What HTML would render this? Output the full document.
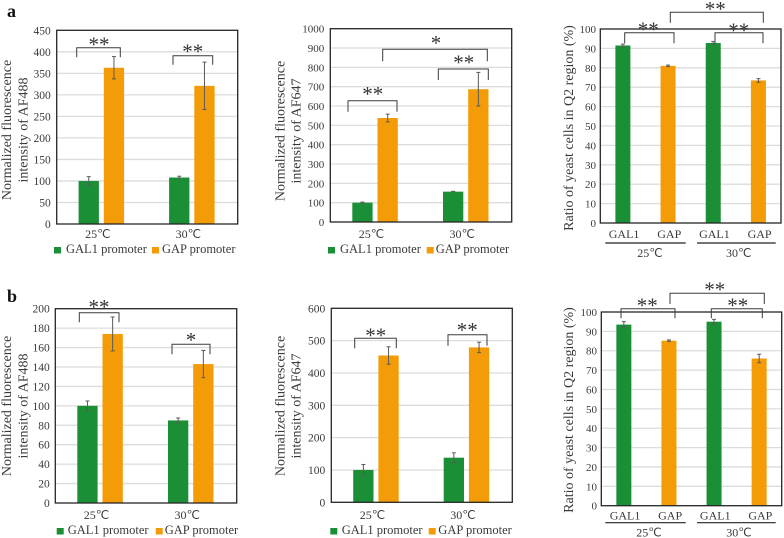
<!DOCTYPE html>
<html lang="en">
<head>
<meta charset="utf-8">
<title>Normalized fluorescence and Q2 ratio charts</title>
<style>
  html, body { margin: 0; padding: 0; background: #fff; }
  svg { display: block; width: 784px; height: 538px; filter: blur(0.35px); }
  text { font-family: "Liberation Serif", serif; fill: #3a3a3a; }
  .title { font-size: 14px; text-anchor: middle; }
  .legend { font-size: 12.5px; }
  .star { font-size: 21px; text-anchor: middle; fill: #333; }
  .panel { font-size: 18px; font-weight: bold; fill: #111; }
  .bracket { fill: none; stroke: #3a3a3a; stroke-width: 1; }
  .group-label { font-size: 12px; text-anchor: middle; }
</style>
</head>
<body>
<svg id="figure" xmlns="http://www.w3.org/2000/svg" width="784" height="538" viewBox="0 0 784 538">
  <rect width="784" height="538" fill="#fff"/>
  <g id="charts"></g>

  <text class="panel" x="7" y="17">a</text>
  <text class="panel" x="7" y="302">b</text>

  <!-- axis titles -->
  <g>
    <text class="title" transform="translate(11,130) rotate(-90)">Normalized fluorescence</text>
    <text class="title" transform="translate(27.5,130) rotate(-90)">intensity of AF488</text>
  </g>
  <g>
    <text class="title" transform="translate(284.7,131) rotate(-90)">Normalized fluorescence</text>
    <text class="title" transform="translate(300.7,131) rotate(-90)">intensity of AF647</text>
  </g>
  <text class="title" transform="translate(573,128) rotate(-90)">Ratio of yeast cells in Q2 region (%)</text>
  <g>
    <text class="title" transform="translate(11,406) rotate(-90)">Normalized fluorescence</text>
    <text class="title" transform="translate(27.3,406) rotate(-90)">intensity of AF488</text>
  </g>
  <g>
    <text class="title" transform="translate(284.7,406) rotate(-90)">Normalized fluorescence</text>
    <text class="title" transform="translate(300.7,406) rotate(-90)">intensity of AF647</text>
  </g>
  <text class="title" transform="translate(573,410) rotate(-90)">Ratio of yeast cells in Q2 region (%)</text>

  <!-- legends -->
  <g>
    <rect x="54" y="247" width="7" height="6.5" fill="#1b8f35"/>
    <text class="legend" x="66" y="253">GAL1 promoter</text>
    <rect x="152" y="247" width="7" height="6.5" fill="#f39c07"/>
    <text class="legend" x="162" y="253">GAP promoter</text>
  </g>
  <g>
    <rect x="328" y="247" width="7" height="6.5" fill="#1b8f35"/>
    <text class="legend" x="340" y="253">GAL1 promoter</text>
    <rect x="426.7" y="247" width="7" height="6.5" fill="#f39c07"/>
    <text class="legend" x="435.7" y="253">GAP promoter</text>
  </g>
  <g>
    <rect x="56.7" y="528" width="7" height="6.5" fill="#1b8f35"/>
    <text class="legend" x="67.7" y="534">GAL1 promoter</text>
    <rect x="155.7" y="528" width="7" height="6.5" fill="#f39c07"/>
    <text class="legend" x="164.7" y="534">GAP promoter</text>
  </g>
  <g>
    <rect x="330.3" y="528" width="7" height="6.5" fill="#1b8f35"/>
    <text class="legend" x="341.7" y="534">GAL1 promoter</text>
    <rect x="428.7" y="528" width="7" height="6.5" fill="#f39c07"/>
    <text class="legend" x="438.3" y="534">GAP promoter</text>
  </g>

  <!-- temperature group labels for the ratio charts -->
  <g>
    <line x1="605.3" x2="685.7" y1="243" y2="243" stroke="#222" stroke-width="1.2"/>
    <line x1="697" x2="775.7" y1="243" y2="243" stroke="#222" stroke-width="1.2"/>
    <text class="group-label" x="650" y="257">25℃</text>
    <text class="group-label" x="738.7" y="257">30℃</text>
  </g>
  <g>
    <line x1="605.3" x2="685.7" y1="522.7" y2="522.7" stroke="#222" stroke-width="1.2"/>
    <line x1="697" x2="775.7" y1="522.7" y2="522.7" stroke="#222" stroke-width="1.2"/>
    <text class="group-label" x="649" y="536.7">25℃</text>
    <text class="group-label" x="739" y="536.7">30℃</text>
  </g>

  <!-- significance brackets -->
  <g>
    <path class="bracket" d="M76.7 57.3V47.7H120.3V57.3"/>
    <text class="star" x="99" y="51.7">**</text>
    <path class="bracket" d="M173 64.7V55.7H212.7V64.7"/>
    <text class="star" x="192.7" y="58.3">**</text>
  </g>
  <g>
    <path class="bracket" d="M348 111.7V100.7H397V111.7"/>
    <text class="star" x="372.7" y="101">**</text>
    <path class="bracket" d="M438.3 80V69H488.3V80"/>
    <text class="star" x="463.7" y="69.3">**</text>
    <path class="bracket" d="M382.7 61.3V49.3H487.3V61.3"/>
    <text class="star" x="436" y="50">*</text>
  </g>
  <g>
    <path class="bracket" d="M624.7 43.3V32.7H674V43.3"/>
    <text class="star" x="648.3" y="36.7">**</text>
    <path class="bracket" d="M715 43.3V32.7H763V43.3"/>
    <text class="star" x="738.7" y="37.3">**</text>
    <path class="bracket" d="M670.3 22.7V12.3H763.3V22.7"/>
    <text class="star" x="715.3" y="16">**</text>
  </g>
  <g>
    <path class="bracket" d="M79.3 322.3V312.7H119V322.3"/>
    <text class="star" x="99" y="314">**</text>
    <path class="bracket" d="M172 354.3V344.3H210V354.3"/>
    <text class="star" x="191" y="347">*</text>
  </g>
  <g>
    <path class="bracket" d="M354.7 348.3V338.3H396.3V348.3"/>
    <text class="star" x="375.7" y="342.3">**</text>
    <path class="bracket" d="M448 345.7V334.7H487V345.7"/>
    <text class="star" x="467.3" y="337">**</text>
  </g>
  <g>
    <path class="bracket" d="M621 318.3V308.7H675V318.3"/>
    <text class="star" x="647.3" y="312.7">**</text>
    <path class="bracket" d="M711.3 318.3V308.7H762.3V318.3"/>
    <text class="star" x="737.7" y="312.7">**</text>
    <path class="bracket" d="M670 304V293.3H764.3V304"/>
    <text class="star" x="714.7" y="296.7">**</text>
  </g>
</svg>

<script>
// ---- data ----
const temperatureCategories = ["25℃", "30℃"];
const strainCategories = ["GAL1", "GAP", "GAL1", "GAP"];

const a1Ticks = [0, 50, 100, 150, 200, 250, 300, 350, 400, 450];
const a1Gal1 = [100, 108];
const a1Gal1Err = [10, 3];
const a1Gap = [363, 321];
const a1GapErr = [26, 55];

const a2Ticks = [0, 100, 200, 300, 400, 500, 600, 700, 800, 900, 1000];
const a2Gal1 = [100, 157];
const a2Gal1Err = [3, 1.5];
const a2Gap = [538, 687];
const a2GapErr = [20, 87];

const a3Ticks = [0, 10, 20, 30, 40, 50, 60, 70, 80, 90, 100];
const a3Values = [91.5, 81, 92.8, 73.5];
const a3Errors = [0.7, 0.4, 0.7, 0.9];

const b1Ticks = [0, 20, 40, 60, 80, 100, 120, 140, 160, 180, 200];
const b1Gal1 = [100, 85];
const b1Gal1Err = [5, 2.5];
const b1Gap = [174, 143];
const b1GapErr = [17.5, 14];

const b2Ticks = [0, 100, 200, 300, 400, 500, 600];
const b2Gal1 = [100, 138];
const b2Gal1Err = [17, 15];
const b2Gap = [454, 479];
const b2GapErr = [27, 16];

const b3Ticks = [0, 10, 20, 30, 40, 50, 60, 70, 80, 90, 100];
const b3Values = [93.5, 85.2, 95, 76];
const b3Errors = [1.5, 0.4, 1.2, 2.2];

// ---- drawing ----
const SVG_NS = "http://www.w3.org/2000/svg";
const GREEN = "#1b8f35";
const ORANGE = "#f39c07";
const root = document.getElementById("charts");

function mk(tag, parent, props, name) {
  const el = document.createElementNS(SVG_NS, tag);
  for (const k in props) el.setAttribute(k, props[k]);
  
  
  parent.appendChild(el);
  return el;
}

function yScale(box, ticks) {
  const max = ticks[ticks.length - 1];
  return v => box.bottom - (v / max) * (box.bottom - box.top);
}

function frame(id, box, ticks) {
  const g = mk("g", root, {}, id + "-chart");
  const y = yScale(box, ticks);
  mk("rect", g, { x: box.left, y: box.top, width: box.right - box.left, height: box.bottom - box.top, fill: "#fff" }, "plot-area");
  ticks.forEach(t => {
    if (t > 0 && t < ticks[ticks.length - 1]) {
      mk("line", g, { x1: box.left, x2: box.right, y1: y(t), y2: y(t), stroke: "#dcdcdc", "stroke-width": 1.3 }, "gridline-" + t);
    }
    const label = mk("text", g, { x: box.left - box.tickGap, y: y(t) + 4, "text-anchor": "end", "font-size": box.tickSize }, "y-tick-" + t);
    label.textContent = t;
  });
  return { g, y };
}

function drawBar(g, y, cx, w, value, err, color, name, base) {
  mk("rect", g, { x: cx - w / 2, y: y(value), width: w, height: base - y(value), fill: color }, "bar-" + name);
  const top = y(value + err), bot = y(value - err);
  mk("line", g, { x1: cx, x2: cx, y1: top, y2: bot, stroke: "#5a5a5a", "stroke-width": 1 }, "error-bar-" + name);
  mk("line", g, { x1: cx - 2, x2: cx + 2, y1: top, y2: top, stroke: "#5a5a5a", "stroke-width": 1 }, "error-cap-top-" + name);
  mk("line", g, { x1: cx - 2, x2: cx + 2, y1: bot, y2: bot, stroke: "#5a5a5a", "stroke-width": 1 }, "error-cap-bottom-" + name);
}

function border(g, box) {
  mk("rect", g, { x: box.left, y: box.top, width: box.right - box.left, height: box.bottom - box.top, fill: "none", stroke: "#262626", "stroke-width": 1.3 }, "plot-border");
}

function groupedChart(id, box, ticks, gal1, gal1Err, gap, gapErr, labelY) {
  const { g, y } = frame(id, box, Object.assign([], ticks));
  const band = (box.right - box.left) / temperatureCategories.length;
  temperatureCategories.forEach((cat, i) => {
    const c = box.left + band * (i + 0.5) - 0.6;
    drawBar(g, y, c - 12.6, 20.3, gal1[i], gal1Err[i], GREEN, "gal1-" + cat, box.bottom);
    drawBar(g, y, c + 12.6, 20.3, gap[i], gapErr[i], ORANGE, "gap-" + cat, box.bottom);
    const t = mk("text", g, { x: c - 3.5, y: labelY, "text-anchor": "middle", "font-size": 12 }, "x-label-" + cat);
    t.textContent = cat;
  });
  border(g, box);
}

function ratioChart(id, box, ticks, values, errors, labelY) {
  const { g, y } = frame(id, box, ticks);
  const band = (box.right - box.left) / strainCategories.length;
  strainCategories.forEach((cat, i) => {
    const c = box.left + band * (i + 0.5);
    drawBar(g, y, c, 15, values[i], errors[i], i % 2 === 0 ? GREEN : ORANGE, cat.toLowerCase() + "-" + i, box.bottom);
    const t = mk("text", g, { x: c + 1.2, y: labelY, "text-anchor": "middle", "font-size": 12 }, "x-label-" + cat.toLowerCase() + "-" + i);
    t.textContent = cat;
  });
  border(g, box);
}

groupedChart("a1", { left: 56.7, right: 237.7, top: 30.3, bottom: 224, tickGap: 6, tickSize: 11.5 }, a1Ticks, a1Gal1, a1Gal1Err, a1Gap, a1GapErr, 238);
groupedChart("a2", { left: 330.3, right: 511.7, top: 28.7, bottom: 222, tickGap: 6, tickSize: 11 }, a2Ticks, a2Gal1, a2Gal1Err, a2Gap, a2GapErr, 238);
ratioChart("a3", { left: 600.3, right: 781, top: 29, bottom: 223, tickGap: 4.3, tickSize: 11 }, a3Ticks, a3Values, a3Errors, 238);
groupedChart("b1", { left: 55.3, right: 236.7, top: 308.7, bottom: 503, tickGap: 5.5, tickSize: 11.5 }, b1Ticks, b1Gal1, b1Gal1Err, b1Gap, b1GapErr, 519);
groupedChart("b2", { left: 331.3, right: 512.3, top: 308.3, bottom: 502.3, tickGap: 6, tickSize: 11.5 }, b2Ticks, b2Gal1, b2Gal1Err, b2Gap, b2GapErr, 519);
ratioChart("b3", { left: 601.3, right: 781.7, top: 312, bottom: 505.7, tickGap: 4.3, tickSize: 11 }, b3Ticks, b3Values, b3Errors, 519.3);
</script>
</body>
</html>
